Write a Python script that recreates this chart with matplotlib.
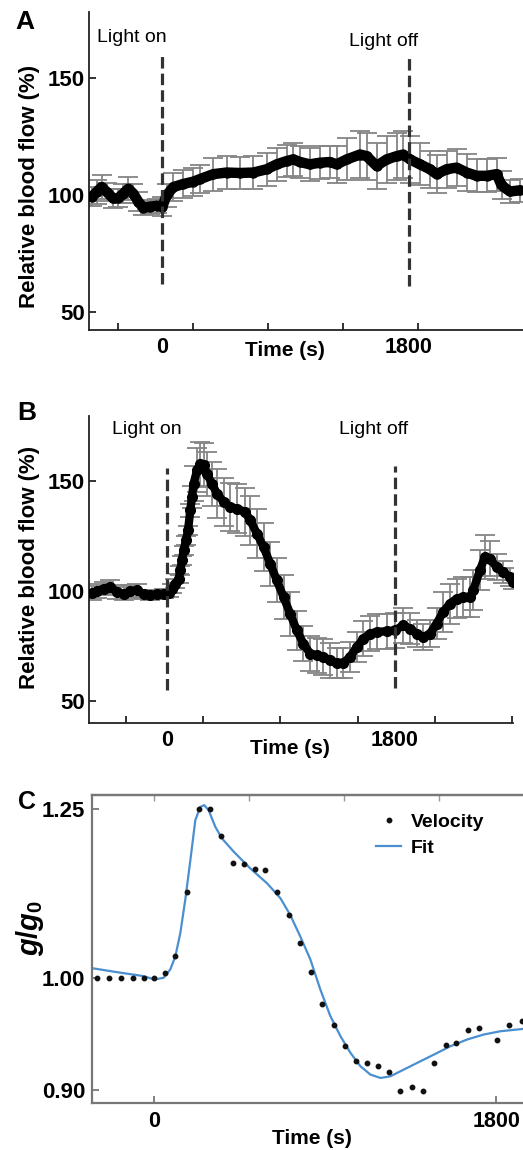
import numpy as np
import matplotlib
matplotlib.use('Agg')
import matplotlib.pyplot as plt
from matplotlib.lines import Line2D

plt.rcParams['font.family'] = ['Liberation Sans', 'DejaVu Sans']
plt.rcParams['mathtext.fontset'] = 'custom'
plt.rcParams['mathtext.it'] = 'Liberation Sans:italic:bold'
plt.rcParams['mathtext.rm'] = 'Liberation Sans:bold'
plt.rcParams['mathtext.bf'] = 'Liberation Sans:bold'

# ---------------- Panel A data ----------------
a_time = [-513, -476, -440, -403, -355, -318, -282, -245, -209, -172, -136, -87, -39, 2,
          34, 83, 155, 228, 277, 374, 471, 568, 666, 763, 836, 908, 957, 1006, 1078,
          1151, 1224, 1273, 1346, 1443, 1491, 1564, 1637, 1710, 1759, 1807, 1880, 1953,
          2002, 2074, 2147, 2220, 2293, 2366, 2439, 2475, 2536, 2609]
a_flow = [99.2, 101.3, 103.4, 101.3, 98.5, 98.7, 100.6, 102.7, 100.6, 97.1, 94.6, 95.0, 95.4, 95.0,
          99.9, 103.4, 104.7, 105.7, 106.8, 108.9, 109.6, 109.4, 109.6, 111.0, 113.1, 114.5, 115.2,
          114.1, 113.1, 113.8, 114.1, 113.1, 115.2, 117.3, 116.6, 112.4, 115.2, 116.6, 117.3, 115.2,
          113.1, 111.0, 108.9, 111.0, 111.7, 109.6, 108.2, 108.2, 108.9, 104.1, 101.5, 102.0]
a_err = [4, 5, 5, 4, 4, 4, 4, 5, 4, 4, 3, 3, 3, 4,
         5, 6, 6, 6, 6, 7, 7, 7, 7, 7, 7, 7, 7, 7, 7,
         7, 7, 8, 9, 10, 10, 10, 10, 10, 10, 10, 9, 8,
         8, 8, 8, 8, 7, 7, 7, 6, 5, 5]
a_ticks = [-320, 225, 770, 1320, 1865]

# ---------------- Panel B data ----------------
b_time = [-591, -552, -499, -447, -394, -342, -289, -237, -184, -131, -79, -26, 13, 39, 66, 92,
          105, 118, 131, 150, 166, 184, 197, 210, 237, 263, 289, 315, 355, 394, 447, 499, 552,
          618, 657, 710, 762, 815, 867, 920, 972, 1025, 1077, 1130, 1183, 1235, 1288, 1340,
          1393, 1445, 1498, 1551, 1603, 1656, 1734, 1800, 1866, 1918, 1971, 2024, 2076, 2129,
          2181, 2234, 2286, 2339, 2391, 2418, 2471, 2510, 2549, 2602, 2654, 2707, 2733]
b_flow = [99.1, 100.0, 101.1, 101.8, 99.5, 98.8, 99.8, 100.3, 98.5, 98.0, 98.5, 98.8, 99.1, 101.1,
          103.3, 105.6, 109.4, 113.9, 118.5, 123.0, 127.6, 136.7, 142.7, 148.8, 154.8, 157.9,
          157.1, 153.3, 148.8, 144.2, 140.5, 138.2, 137.4, 135.9, 132.1, 126.1, 120.0, 112.4,
          104.8, 97.3, 89.7, 82.1, 76.1, 71.5, 70.8, 70.0, 68.5, 67.3, 67.3, 70.0, 74.5, 78.3,
          80.6, 81.4, 81.7, 82.1, 84.4, 82.9, 80.6, 79.1, 80.6, 85.2, 90.5, 94.2, 96.5, 97.3,
          97.3, 100.3, 109.4, 115.5, 114.7, 110.9, 108.6, 106.4, 104.1]
b_err = [3, 3, 3, 3, 3, 3, 3, 3, 2, 2, 2, 2, 2, 2,
         2, 2, 2, 2, 2, 2, 2, 3, 5, 8, 10, 10,
         10, 10, 10, 11, 11, 11, 11, 11, 11, 11, 11, 10,
         10, 10, 10, 9, 8, 8, 8, 8, 8, 7, 7, 7, 7, 8,
         8, 8, 8, 8, 8, 7, 6, 6, 6, 7, 9, 9, 9, 9,
         9, 9, 9, 10, 8, 6, 5, 4, 3]
b_ticks = [-320, 285, 895, 1505, 2115, 2725]

# ---------------- Panel C data ----------------
c_time = [-302, -239, -176, -114, -56, 0, 54, 111, 170, 234, 292, 349, 413, 471, 529, 585, 646,
          709, 767, 827, 885, 945, 1003, 1064, 1122, 1180, 1236, 1296, 1359, 1415, 1472, 1535,
          1591, 1651, 1712, 1802, 1867, 1937]
c_vel = [1.000, 1.000, 1.000, 1.000, 1.000, 1.000, 1.007, 1.032, 1.127, 1.250, 1.250, 1.210,
         1.170, 1.168, 1.162, 1.160, 1.127, 1.0925, 1.051, 1.009, 0.977, 0.958, 0.939, 0.926,
         0.924, 0.921, 0.916, 0.899, 0.902, 0.899, 0.924, 0.940, 0.942, 0.953, 0.955, 0.944,
         0.958, 0.961]
fit_time = [-328, -197, -56, 0, 49, 84, 111, 137, 163, 190, 216, 242, 263, 286, 321, 356, 418,
            506, 594, 664, 716, 769, 822, 874, 927, 980, 1033, 1085, 1138, 1191, 1243, 1296,
            1384, 1472, 1559, 1647, 1735, 1823, 1942]
fit_val = [1.0143, 1.0084, 1.0025, 0.9985, 1.000, 1.0123, 1.032, 1.0664, 1.1156, 1.1747, 1.2337,
           1.2534, 1.2559, 1.2485, 1.224, 1.2067, 1.187, 1.162, 1.140, 1.118, 1.093, 1.061,
           1.027, 0.9896, 0.9657, 0.9478, 0.9328, 0.9209, 0.9134, 0.9104, 0.9119, 0.9164,
           0.9239, 0.9313, 0.9388, 0.9448, 0.9493, 0.9522, 0.9543]
c_yticks = [0.90, 1.00, 1.25]
c_yticklabels = ['0.90', '1.00', '1.25']
c_top_ticks = [0, 500, 1000, 1500]

W, H = 523, 1150
fig = plt.figure(figsize=(W / 100, H / 100), dpi=100)


def rect(left, top, right, bottom):
    return [left / W, 1 - bottom / H, (right - left) / W, (bottom - top) / H]


TICKFS = 15.5
SPINE = '#222222'


def flow_panel(ax, t, v, e, ticks, xlim, ylim, lon, loff, lw_line, ms):
    ax.errorbar(t, v, yerr=e, fmt='none', ecolor='#858585', elinewidth=1.3,
                capsize=7.5, capthick=1.3, zorder=1)
    ax.plot(t, v, '-', color='black', lw=lw_line, solid_capstyle='round',
            solid_joinstyle='round', zorder=3)
    ax.plot(t, v, 'o', color='black', ms=ms, zorder=4)
    ax.plot([0, 0], lon, color='#333333', lw=2.3, ls=(0, (3.6, 1.6)), zorder=5)
    ax.plot([1800, 1800], loff, color='#333333', lw=2.3, ls=(0, (3.6, 1.6)), zorder=5)
    ax.set_xlim(*xlim)
    ax.set_ylim(*ylim)
    for s in ['top', 'right']:
        ax.spines[s].set_visible(False)
    for s in ['left', 'bottom']:
        ax.spines[s].set_color(SPINE)
        ax.spines[s].set_linewidth(1.3)
    ax.set_xticks(ticks, minor=True)
    ax.set_xticks([0, 1800])
    ax.set_xticklabels(['0', '1800'], fontsize=TICKFS, fontweight='bold')
    ax.tick_params(axis='x', which='major', length=0, pad=5)
    ax.tick_params(axis='x', which='minor', direction='in', length=5, width=1.3, color=SPINE)
    ax.set_yticks([50, 100, 150])
    ax.set_yticklabels(['50', '100', '150'], fontsize=16, fontweight='bold')
    ax.tick_params(axis='y', direction='in', length=5, width=1.3, pad=3, color=SPINE)


# ---------------- Panel A ----------------
axA = fig.add_axes(rect(89, 12, 523, 330))
flow_panel(axA, a_time, a_flow, a_err, a_ticks, (-532, 2631), (42.3, 178.2),
           (62, 161), (61, 159), 7.5, 6.5)

# ---------------- Panel B ----------------
axB = fig.add_axes(rect(89, 416, 513, 723))
flow_panel(axB, b_time, b_flow, b_err, b_ticks, (-616, 2732), (40, 179.5),
           (55, 156), (56, 157), 6.0, 7)

# texts for A and B
fig.text(97 / W, 1 - 37 / H, 'Light on', fontsize=14, ha='left', va='center')
fig.text(384 / W, 1 - 42 / H, 'Light off', fontsize=14, ha='center', va='center')
fig.text(147 / W, 1 - 429 / H, 'Light on', fontsize=14, ha='center', va='center')
fig.text(374 / W, 1 - 429 / H, 'Light off', fontsize=14, ha='center', va='center')
fig.text(285 / W, 1 - 350 / H, 'Time (s)', fontsize=15, fontweight='bold', ha='center', va='center')
fig.text(290 / W, 1 - 748 / H, 'Time (s)', fontsize=15, fontweight='bold', ha='center', va='center')
fig.text(312 / W, 1 - 1138 / H, 'Time (s)', fontsize=15, fontweight='bold', ha='center', va='center')
fig.text(30 / W, 1 - 186 / H, 'Relative blood flow (%)', fontsize=16, fontweight='bold',
         rotation=90, ha='center', va='center')
fig.text(30 / W, 1 - 567 / H, 'Relative blood flow (%)', fontsize=16, fontweight='bold',
         rotation=90, ha='center', va='center')
fig.text(25 / W, 1 - 22 / H, 'A', fontsize=19, fontweight='bold', ha='center', va='center')
fig.text(27 / W, 1 - 413 / H, 'B', fontsize=19, fontweight='bold', ha='center', va='center')
fig.text(27 / W, 1 - 802 / H, 'C', fontsize=18, fontweight='bold', ha='center', va='center')


# ---------------- Panel C ----------------
def fwd(v):
    v = np.asarray(v, dtype=float)
    return np.where(v >= 1, (v - 1) * 676.0, (v - 1) * 1120.0)


def inv(y):
    y = np.asarray(y, dtype=float)
    return np.where(y >= 0, 1 + y / 676.0, 1 + y / 1120.0)


axC = fig.add_axes(rect(92, 795, 530, 1103))
axC.set_yscale('function', functions=(fwd, inv))
axC.plot(fit_time, fit_val, '-', color='#4a8fd0', lw=1.6, zorder=2)
axC.plot(c_time, c_vel, 'o', color='#111111', ms=3.2, zorder=3)
axC.set_xlim(-328, 1978)
axC.set_ylim(0.888, 1.271)
FRAME = '#777777'
for s in axC.spines.values():
    s.set_color(FRAME)
    s.set_linewidth(1.6)
axC.set_xticks([0, 1800])
axC.set_xticklabels(['0', '1800'], fontsize=TICKFS, fontweight='bold')
axC.set_yticks(c_yticks)
axC.set_yticklabels(c_yticklabels, fontsize=16, fontweight='bold')
axC.yaxis.set_minor_locator(matplotlib.ticker.NullLocator())
axC.tick_params(axis='x', direction='in', length=5, width=1.3, pad=6, color=FRAME)
axC.tick_params(axis='y', direction='in', length=5, width=1.3, pad=5, color=FRAME)
secC = axC.secondary_xaxis('top')
secC.set_xticks(c_top_ticks)
secC.set_xticklabels([])
secC.tick_params(direction='in', length=4, width=1.0, color='#999999')
secC.spines['top'].set_color(FRAME)
secC.spines['top'].set_linewidth(1.6)

fig.text(30 / W, 1 - 928 / H, r'$g/g_0$', fontsize=21, rotation=90, ha='center', va='center')

handles = [Line2D([], [], ls='none', marker='o', ms=3.2, color='#111111'),
           Line2D([], [], color='#4a8fd0', lw=1.6)]
fig.legend(handles, ['Velocity', 'Fit'], loc='upper left',
           bbox_to_anchor=(376 / W, 1 - 813 / H), frameon=False,
           prop={'weight': 'bold', 'size': 14}, handlelength=1.3, handletextpad=0.5,
           labelspacing=0.45, borderpad=0, borderaxespad=0)

fig.savefig('out.png', dpi=100)
